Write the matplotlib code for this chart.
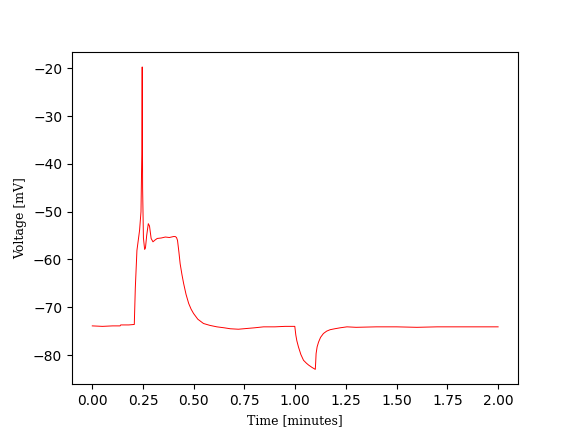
import matplotlib.pyplot as plt

# trace (time in minutes, voltage in mV)
time_min = [0.000, 0.050, 0.100, 0.137, 0.140, 0.180, 0.207, 0.212, 0.220, 0.233,
            0.240, 0.244, 0.246, 0.248, 0.252, 0.258, 0.262, 0.268, 0.276, 0.282,
            0.290, 0.299, 0.310, 0.320, 0.340, 0.360, 0.380, 0.400, 0.409, 0.415,
            0.420, 0.427, 0.433, 0.442, 0.450, 0.462, 0.475, 0.487, 0.499, 0.520,
            0.548, 0.580, 0.614, 0.650, 0.680, 0.720, 0.746, 0.800, 0.844, 0.900,
            0.950, 0.998, 1.003, 1.008, 1.016, 1.028, 1.041, 1.055, 1.066, 1.083,
            1.099, 1.101, 1.103, 1.108, 1.115, 1.125, 1.139, 1.155, 1.172, 1.195,
            1.222, 1.255, 1.300, 1.400, 1.500, 1.600, 1.700, 1.800, 1.900, 2.000]
voltage_mv = [-73.9, -74.0, -73.9, -73.9, -73.7, -73.7, -73.6, -66.0, -58.1, -53.9,
              -50.0, -38.0, -19.7, -45.0, -55.5, -57.9, -57.6, -55.0, -52.5, -53.0,
              -55.6, -56.3, -55.9, -55.6, -55.5, -55.3, -55.4, -55.2, -55.2, -55.4,
              -56.0, -58.5, -60.9, -63.2, -65.0, -67.3, -69.2, -70.4, -71.3, -72.5,
              -73.4, -73.8, -74.1, -74.3, -74.5, -74.6, -74.5, -74.3, -74.1, -74.1,
              -74.0, -74.0, -75.8, -77.0, -78.3, -79.9, -81.1, -81.7, -82.1, -82.6,
              -83.0, -81.5, -79.7, -78.3, -77.3, -76.3, -75.5, -75.0, -74.7, -74.5,
              -74.3, -74.1, -74.2, -74.1, -74.1, -74.2, -74.1, -74.1, -74.1, -74.1]

fig, ax = plt.subplots(figsize=(5.76, 4.32), dpi=100)
ax.plot(time_min, voltage_mv, color='red', linewidth=0.7)
ax.set_xlabel('Time [minutes]', family='DejaVu Serif', fontsize=9)
ax.set_ylabel('Voltage [mV]', family='DejaVu Serif', fontsize=9)
fig.savefig('out.png', dpi=100)
